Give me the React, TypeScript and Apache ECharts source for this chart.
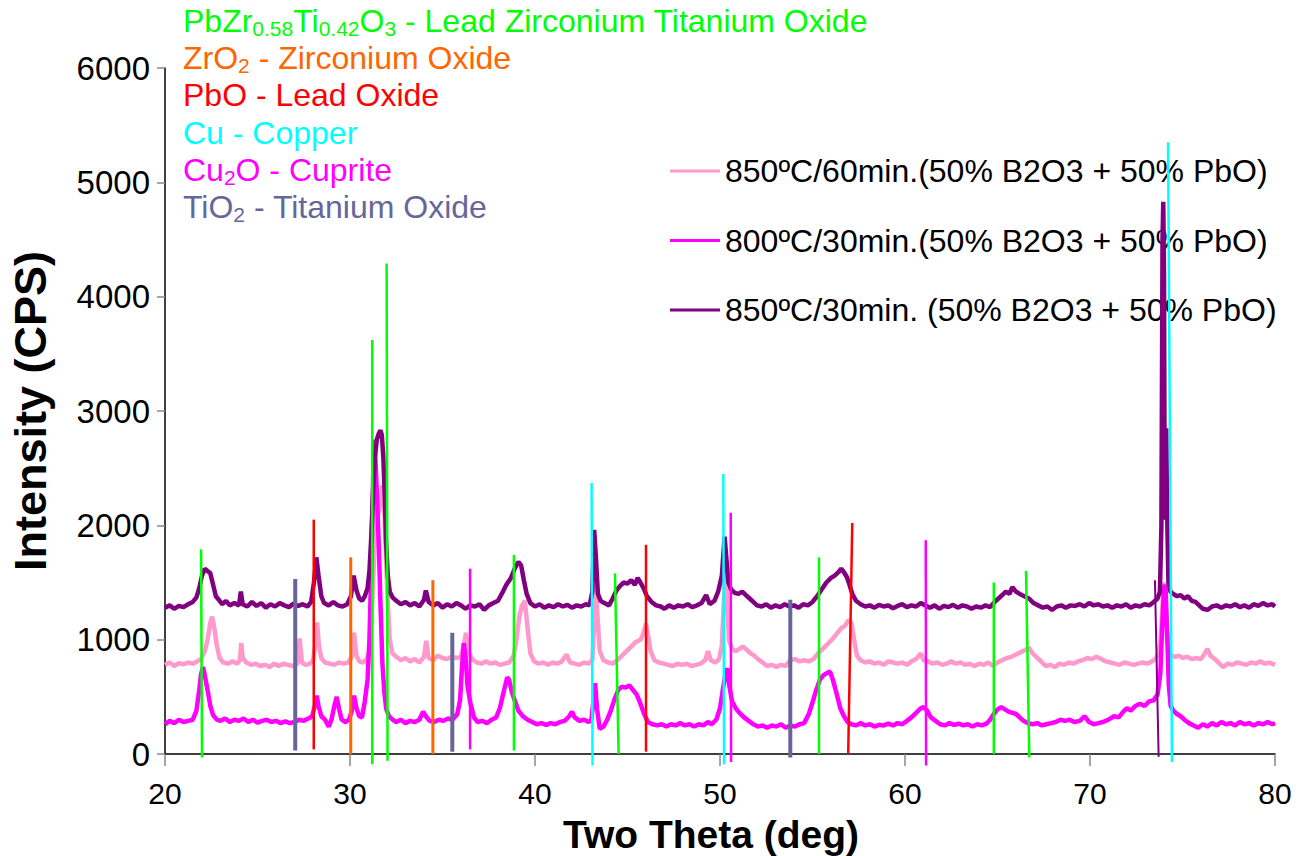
import { useEffect, useRef } from "react";
import * as echarts from "echarts";

// ---- diffraction patterns: [2θ (deg), intensity (CPS)] ----
const pattern850_60: [number, number][] = [
  [20.0, 780], [20.25, 800], [20.5, 770], [20.75, 795], [21.0, 785], [21.25, 800], [21.5, 790], [21.75, 810],
  [21.95, 830], [22.15, 900], [22.3, 1000], [22.45, 1150], [22.55, 1200], [22.65, 1120], [22.8, 950], [22.95, 840],
  [23.15, 800], [23.4, 790], [23.65, 810], [23.9, 790], [24.05, 820], [24.12, 970], [24.2, 840], [24.4, 800],
  [24.65, 780], [24.9, 790], [25.15, 770], [25.4, 780], [25.65, 760], [25.9, 790], [26.15, 770], [26.4, 790],
  [26.65, 780], [26.9, 770], [27.15, 790], [27.28, 1010], [27.4, 800], [27.6, 780], [27.85, 790], [28.0, 820],
  [28.12, 950], [28.22, 1150], [28.32, 950], [28.45, 840], [28.65, 800], [28.9, 790], [29.15, 780], [29.4, 800],
  [29.65, 790], [29.9, 800], [30.1, 850], [30.22, 1060], [30.35, 860], [30.5, 810], [30.7, 800], [30.9, 830],
  [31.05, 900], [31.15, 1100], [31.25, 1500], [31.35, 1900], [31.45, 2150], [31.55, 2100], [31.65, 2200], [31.75, 2350],
  [31.85, 2150], [31.95, 1700], [32.05, 1300], [32.15, 1000], [32.3, 880], [32.5, 850], [32.75, 820], [33.0, 840],
  [33.25, 810], [33.5, 830], [33.75, 800], [34.0, 850], [34.12, 990], [34.25, 840], [34.5, 820], [34.75, 860],
  [35.0, 840], [35.25, 830], [35.5, 850], [35.75, 840], [36.0, 850], [36.15, 950], [36.27, 1060], [36.4, 900],
  [36.6, 830], [36.85, 800], [37.1, 790], [37.35, 810], [37.6, 790], [37.85, 800], [38.1, 780], [38.35, 790],
  [38.6, 800], [38.85, 860], [39.0, 1000], [39.15, 1200], [39.3, 1300], [39.45, 1340], [39.6, 1100], [39.75, 880],
  [39.95, 810], [40.2, 790], [40.45, 800], [40.7, 780], [40.95, 800], [41.2, 790], [41.45, 810], [41.7, 870],
  [41.9, 800], [42.15, 790], [42.4, 780], [42.65, 800], [42.9, 790], [43.1, 820], [43.22, 1200], [43.3, 1480],
  [43.38, 1200], [43.5, 900], [43.7, 820], [43.95, 800], [44.2, 790], [44.45, 820], [44.7, 860], [44.95, 900],
  [45.2, 940], [45.45, 980], [45.7, 1000], [45.85, 1050], [46.0, 1140], [46.1, 1050], [46.25, 900], [46.45, 820],
  [46.7, 800], [46.95, 790], [47.2, 780], [47.45, 770], [47.7, 790], [47.95, 780], [48.2, 790], [48.45, 770],
  [48.7, 780], [48.95, 790], [49.2, 820], [49.35, 900], [49.5, 820], [49.75, 800], [49.95, 830], [50.1, 950],
  [50.2, 1300], [50.3, 1650], [50.38, 1400], [50.48, 1000], [50.65, 920], [50.85, 900], [51.05, 920], [51.25, 940],
  [51.45, 910], [51.65, 880], [51.85, 860], [52.05, 830], [52.3, 800], [52.55, 770], [52.8, 780], [53.05, 760],
  [53.3, 780], [53.55, 770], [53.8, 820], [54.05, 830], [54.3, 810], [54.55, 820], [54.8, 810], [55.05, 830],
  [55.3, 880], [55.55, 920], [55.8, 960], [56.05, 1000], [56.3, 1050], [56.55, 1100], [56.75, 1120], [56.95, 1170],
  [57.1, 1150], [57.25, 1000], [57.4, 860], [57.6, 820], [57.85, 800], [58.1, 810], [58.35, 790], [58.6, 800],
  [58.85, 780], [59.1, 810], [59.35, 800], [59.6, 790], [59.85, 800], [60.1, 780], [60.35, 810], [60.6, 830],
  [60.85, 880], [61.0, 820], [61.25, 810], [61.5, 790], [61.75, 800], [62.0, 780], [62.25, 790], [62.5, 810],
  [62.75, 790], [63.0, 800], [63.25, 780], [63.5, 790], [63.75, 770], [64.0, 790], [64.25, 780], [64.5, 800],
  [64.75, 770], [65.0, 800], [65.25, 820], [65.5, 840], [65.75, 850], [66.0, 870], [66.25, 890], [66.5, 910],
  [66.7, 930], [66.9, 880], [67.1, 850], [67.35, 810], [67.6, 770], [67.85, 780], [68.1, 760], [68.35, 790],
  [68.6, 780], [68.85, 800], [69.1, 790], [69.35, 810], [69.6, 820], [69.85, 840], [70.1, 830], [70.35, 850],
  [70.6, 830], [70.85, 810], [71.1, 800], [71.35, 790], [71.6, 780], [71.85, 800], [72.1, 790], [72.35, 780],
  [72.6, 790], [72.85, 800], [73.1, 790], [73.35, 810], [73.55, 830], [73.7, 880], [73.82, 1000], [73.92, 1300],
  [74.0, 1500], [74.08, 1350], [74.16, 1100], [74.26, 900], [74.4, 860], [74.6, 850], [74.8, 860], [75.0, 840],
  [75.25, 850], [75.5, 830], [75.75, 840], [76.0, 830], [76.2, 880], [76.35, 920], [76.5, 860], [76.75, 830],
  [77.0, 790], [77.2, 760], [77.45, 790], [77.7, 780], [77.95, 800], [78.2, 790], [78.45, 780], [78.7, 800],
  [78.95, 790], [79.2, 810], [79.45, 790], [79.7, 800], [80.0, 780],
];

const pattern800_30: [number, number][] = [
  [20.0, 260], [20.25, 290], [20.5, 270], [20.75, 300], [21.0, 280], [21.25, 290], [21.5, 300], [21.7, 380],
  [21.85, 560], [21.95, 700], [22.05, 760], [22.15, 690], [22.3, 560], [22.45, 420], [22.6, 340], [22.8, 300],
  [23.0, 290], [23.25, 310], [23.5, 280], [23.75, 300], [24.0, 290], [24.25, 310], [24.5, 280], [24.75, 300],
  [25.0, 275], [25.25, 290], [25.5, 300], [25.75, 280], [26.0, 290], [26.25, 270], [26.5, 285], [26.75, 270],
  [27.0, 280], [27.25, 300], [27.5, 290], [27.75, 310], [27.95, 330], [28.1, 420], [28.2, 510], [28.3, 420],
  [28.45, 330], [28.65, 300], [28.85, 240], [29.0, 300], [29.15, 420], [29.28, 500], [29.4, 400], [29.55, 300],
  [29.75, 280], [29.95, 300], [30.1, 380], [30.22, 510], [30.35, 400], [30.5, 330], [30.65, 320], [30.8, 460],
  [30.95, 650], [31.05, 1000], [31.15, 1600], [31.22, 2200], [31.3, 2750], [31.38, 2550], [31.46, 2250], [31.55, 1850],
  [31.65, 1300], [31.75, 800], [31.85, 550], [31.95, 400], [32.1, 330], [32.3, 300], [32.5, 280], [32.75, 300],
  [33.0, 270], [33.25, 290], [33.5, 280], [33.75, 300], [33.95, 370], [34.1, 330], [34.3, 290], [34.55, 280],
  [34.8, 300], [35.05, 290], [35.3, 310], [35.55, 300], [35.8, 350], [35.95, 470], [36.05, 750], [36.15, 970],
  [36.25, 850], [36.35, 600], [36.5, 450], [36.7, 320], [36.9, 280], [37.15, 290], [37.4, 270], [37.65, 300],
  [37.9, 320], [38.1, 400], [38.3, 540], [38.5, 670], [38.6, 650], [38.75, 540], [38.9, 470], [39.1, 380],
  [39.35, 330], [39.6, 300], [39.85, 280], [40.1, 260], [40.35, 270], [40.6, 255], [40.85, 270], [41.1, 260],
  [41.35, 280], [41.6, 290], [41.85, 330], [42.0, 370], [42.15, 320], [42.4, 290], [42.65, 300], [42.9, 280],
  [43.05, 300], [43.15, 450], [43.25, 620], [43.35, 400], [43.5, 220], [43.7, 240], [43.9, 300], [44.1, 380],
  [44.3, 480], [44.5, 560], [44.7, 590], [44.9, 580], [45.1, 600], [45.3, 560], [45.5, 520], [45.7, 440],
  [45.9, 350], [46.1, 280], [46.35, 260], [46.6, 250], [46.85, 260], [47.1, 240], [47.35, 260], [47.6, 250],
  [47.85, 270], [48.1, 250], [48.35, 260], [48.6, 240], [48.85, 260], [49.1, 250], [49.35, 280], [49.55, 260],
  [49.8, 300], [50.0, 400], [50.15, 560], [50.3, 700], [50.4, 750], [50.5, 600], [50.65, 460], [50.85, 400],
  [51.05, 360], [51.3, 320], [51.55, 290], [51.8, 260], [52.05, 240], [52.3, 250], [52.55, 230], [52.8, 250],
  [53.05, 240], [53.3, 260], [53.55, 230], [53.8, 250], [54.05, 240], [54.3, 260], [54.55, 270], [54.8, 350],
  [55.0, 450], [55.2, 560], [55.4, 650], [55.6, 690], [55.8, 710], [55.95, 720], [56.1, 650], [56.3, 530],
  [56.5, 400], [56.7, 330], [56.9, 280], [57.1, 260], [57.35, 250], [57.6, 270], [57.85, 250], [58.1, 260],
  [58.35, 240], [58.6, 255], [58.85, 250], [59.1, 265], [59.35, 250], [59.6, 270], [59.85, 260], [60.1, 290],
  [60.35, 320], [60.6, 360], [60.85, 400], [61.0, 410], [61.2, 380], [61.4, 320], [61.65, 290], [61.9, 260],
  [62.15, 250], [62.4, 270], [62.65, 255], [62.9, 265], [63.15, 250], [63.4, 260], [63.65, 240], [63.9, 260],
  [64.15, 250], [64.4, 265], [64.6, 300], [64.8, 350], [65.0, 390], [65.2, 410], [65.4, 390], [65.6, 370],
  [65.8, 360], [66.0, 350], [66.2, 320], [66.4, 290], [66.65, 270], [66.9, 260], [67.15, 270], [67.4, 250],
  [67.65, 260], [67.9, 270], [68.15, 280], [68.4, 300], [68.65, 290], [68.9, 300], [69.15, 280], [69.45, 290],
  [69.7, 330], [69.95, 280], [70.2, 260], [70.45, 270], [70.7, 280], [71.0, 300], [71.3, 330], [71.55, 320],
  [71.8, 370], [72.0, 400], [72.2, 380], [72.45, 420], [72.7, 440], [72.95, 420], [73.2, 460], [73.45, 470],
  [73.65, 520], [73.8, 700], [73.9, 1100], [74.0, 1450], [74.08, 1480], [74.16, 1100], [74.26, 600], [74.36, 420],
  [74.5, 380], [74.7, 350], [74.9, 330], [75.1, 300], [75.35, 270], [75.6, 250], [75.85, 230], [76.1, 260],
  [76.35, 240], [76.6, 270], [76.85, 250], [77.1, 280], [77.35, 260], [77.6, 270], [77.85, 250], [78.1, 280],
  [78.35, 260], [78.6, 270], [78.85, 250], [79.1, 270], [79.35, 260], [79.6, 280], [79.85, 260], [80.0, 270],
];

const pattern850_30: [number, number][] = [
  [20.0, 1280], [20.25, 1300], [20.5, 1270], [20.75, 1295], [21.0, 1285], [21.25, 1310], [21.5, 1330], [21.7, 1370],
  [21.85, 1450], [22.0, 1560], [22.15, 1620], [22.3, 1600], [22.45, 1580], [22.6, 1480], [22.75, 1380], [22.9, 1350],
  [23.1, 1310], [23.3, 1340], [23.5, 1300], [23.75, 1320], [24.0, 1300], [24.1, 1420], [24.2, 1310], [24.45, 1290],
  [24.7, 1330], [24.95, 1295], [25.2, 1320], [25.45, 1280], [25.7, 1310], [25.95, 1290], [26.2, 1320], [26.45, 1300],
  [26.7, 1285], [26.95, 1315], [27.2, 1295], [27.45, 1310], [27.7, 1290], [27.9, 1330], [28.05, 1500], [28.18, 1720],
  [28.3, 1560], [28.45, 1380], [28.6, 1320], [28.85, 1300], [29.1, 1330], [29.35, 1300], [29.6, 1290], [29.85, 1310],
  [30.05, 1380], [30.2, 1560], [30.35, 1430], [30.5, 1360], [30.65, 1340], [30.8, 1380], [30.95, 1450], [31.05, 1600],
  [31.15, 1900], [31.25, 2300], [31.35, 2600], [31.45, 2750], [31.55, 2800], [31.65, 2830], [31.72, 2790], [31.8, 2600],
  [31.88, 2250], [31.95, 1850], [32.05, 1550], [32.15, 1420], [32.3, 1370], [32.5, 1340], [32.75, 1310], [33.0, 1330],
  [33.25, 1300], [33.5, 1320], [33.75, 1290], [34.0, 1350], [34.1, 1430], [34.25, 1330], [34.5, 1300], [34.75, 1320],
  [35.0, 1280], [35.25, 1310], [35.5, 1290], [35.75, 1320], [36.0, 1300], [36.25, 1270], [36.5, 1300], [36.75, 1290],
  [37.0, 1310], [37.25, 1260], [37.5, 1300], [37.75, 1320], [38.0, 1340], [38.2, 1400], [38.45, 1480], [38.7, 1540],
  [38.9, 1620], [39.1, 1680], [39.25, 1650], [39.4, 1520], [39.55, 1400], [39.75, 1320], [40.0, 1290], [40.25, 1310],
  [40.5, 1280], [40.75, 1300], [41.0, 1285], [41.25, 1310], [41.5, 1290], [41.75, 1305], [42.0, 1280], [42.25, 1300],
  [42.5, 1290], [42.75, 1310], [42.95, 1300], [43.1, 1420], [43.2, 1960], [43.3, 1700], [43.4, 1400], [43.55, 1340],
  [43.75, 1320], [44.0, 1300], [44.2, 1360], [44.4, 1430], [44.6, 1470], [44.8, 1500], [45.0, 1490], [45.2, 1520],
  [45.4, 1480], [45.55, 1540], [45.7, 1500], [45.9, 1440], [46.05, 1380], [46.3, 1330], [46.55, 1300], [46.8, 1290],
  [47.0, 1270], [47.25, 1300], [47.5, 1280], [47.75, 1300], [48.0, 1290], [48.25, 1310], [48.5, 1285], [48.75, 1300],
  [49.0, 1320], [49.25, 1390], [49.45, 1310], [49.7, 1340], [49.9, 1420], [50.1, 1560], [50.25, 1900], [50.35, 1700],
  [50.45, 1500], [50.6, 1440], [50.8, 1410], [51.0, 1400], [51.2, 1420], [51.4, 1390], [51.6, 1360], [51.8, 1330],
  [52.0, 1300], [52.25, 1290], [52.5, 1310], [52.75, 1280], [53.0, 1300], [53.25, 1285], [53.5, 1310], [53.75, 1290],
  [54.0, 1300], [54.25, 1280], [54.5, 1310], [54.75, 1300], [55.0, 1330], [55.25, 1380], [55.5, 1440], [55.75, 1500],
  [56.0, 1540], [56.2, 1560], [56.4, 1590], [56.55, 1620], [56.7, 1590], [56.85, 1550], [57.0, 1480], [57.15, 1400],
  [57.35, 1340], [57.6, 1310], [57.85, 1290], [58.1, 1300], [58.35, 1280], [58.6, 1305], [58.85, 1290], [59.1, 1300],
  [59.35, 1275], [59.6, 1295], [59.85, 1310], [60.1, 1285], [60.35, 1300], [60.6, 1290], [60.85, 1320], [61.1, 1300],
  [61.35, 1280], [61.6, 1300], [61.85, 1270], [62.1, 1295], [62.35, 1285], [62.6, 1305], [62.85, 1280], [63.1, 1300],
  [63.35, 1290], [63.6, 1270], [63.85, 1290], [64.1, 1280], [64.35, 1300], [64.6, 1285], [64.85, 1330], [65.05, 1360],
  [65.25, 1390], [65.45, 1420], [65.65, 1400], [65.8, 1460], [66.0, 1420], [66.2, 1400], [66.45, 1380], [66.7, 1360],
  [66.95, 1320], [67.2, 1300], [67.45, 1280], [67.7, 1290], [67.95, 1260], [68.2, 1290], [68.45, 1300], [68.7, 1280],
  [68.95, 1300], [69.2, 1295], [69.45, 1310], [69.7, 1290], [69.95, 1320], [70.2, 1300], [70.45, 1310], [70.7, 1290],
  [70.95, 1300], [71.2, 1280], [71.45, 1300], [71.7, 1290], [71.95, 1310], [72.2, 1280], [72.45, 1300], [72.7, 1290],
  [72.95, 1310], [73.2, 1300], [73.45, 1330], [73.65, 1360], [73.78, 1420], [73.86, 2000], [73.92, 4500], [73.96, 4830],
  [74.0, 4200], [74.04, 2050], [74.08, 2500], [74.12, 2850], [74.17, 2100], [74.24, 1500], [74.35, 1420], [74.5, 1400],
  [74.7, 1380], [74.9, 1390], [75.1, 1360], [75.3, 1380], [75.5, 1340], [75.7, 1330], [75.9, 1300], [76.1, 1270],
  [76.35, 1260], [76.6, 1290], [76.85, 1300], [77.1, 1280], [77.35, 1300], [77.6, 1290], [77.85, 1310], [78.1, 1285],
  [78.35, 1300], [78.6, 1280], [78.85, 1310], [79.1, 1295], [79.35, 1320], [79.6, 1300], [79.85, 1310], [80.0, 1290],
];

// ---- reference peaks per phase: [2θ at top, 2θ at foot, top CPS, foot CPS] ----
const pztPeaks: [number, number, number, number][] = [
  [21.95, 22.0, 1790, -30], [31.2, 31.2, 3620, -90], [31.98, 32.03, 4290, -60], [38.86, 38.86, 1740, 30],
  [44.32, 44.52, 1580, 0], [55.35, 55.35, 1720, 0], [64.8, 64.8, 1500, 0], [66.54, 66.72, 1600, -30],
];
const zro2Peaks: [number, number, number, number][] = [
  [30.04, 30.04, 1720, 0], [34.48, 34.48, 1520, 0],
];
const pboPeaks: [number, number, number, number][] = [
  [28.04, 28.04, 2050, 40], [46.0, 46.0, 1830, 20], [57.15, 56.93, 2020, 0],
];
const cuPeaks: [number, number, number, number][] = [
  [43.06, 43.11, 2370, -100], [50.18, 50.22, 2450, -90], [74.22, 74.43, 5350, -70],
];
const cu2oPeaks: [number, number, number, number][] = [
  [36.49, 36.49, 1620, 40], [50.58, 50.6, 2110, -70], [61.12, 61.14, 1870, -100],
];
const tio2Peaks: [number, number, number, number][] = [
  [27.04, 27.04, 1530, 30], [35.53, 35.53, 1060, 20], [53.8, 53.8, 1350, -30],
];
const extraPeaks: [number, number, number, number][] = [
  [73.51, 73.71, 1520, -25],
];

const sampleNames = [
  "850ºC/60min.(50% B2O3 + 50% PbO)",
  "800ºC/30min.(50% B2O3 + 50% PbO)",
  "850ºC/30min. (50% B2O3 + 50% PbO)",
];

const xTicks = { min: 20, max: 80, step: 10 };
const yTicks = { min: 0, max: 6000, step: 1000 };

const FONT = "'Liberation Sans', Arial, Helvetica, sans-serif";

const phaseStyles = [
  { key: "pzt", peaks: pztPeaks, color: "#00FF00", width: 2.5 },
  { key: "zro2", peaks: zro2Peaks, color: "#FF6600", width: 3 },
  { key: "pbo", peaks: pboPeaks, color: "#FF0000", width: 2.5 },
  { key: "cu", peaks: cuPeaks, color: "#00FFFF", width: 2.5 },
  { key: "cu2o", peaks: cu2oPeaks, color: "#FF00FF", width: 2.5 },
  { key: "tio2", peaks: tio2Peaks, color: "#666699", width: 4 },
  { key: "extra", peaks: extraPeaks, color: "#800080", width: 2 },
];

// phase key lines in the top-left corner (rich text with subscripts)
const phaseLegend = [
  { color: "#00FF00", text: "{a|PbZr}{s|0.58}{a|Ti}{s|0.42}{a|O}{s|3}{a| - Lead Zirconium Titanium Oxide}" },
  { color: "#FF6600", text: "{a|ZrO}{s|2}{a| - Zirconium Oxide}" },
  { color: "#FF0000", text: "{a|PbO - Lead Oxide}" },
  { color: "#00FFFF", text: "{a|Cu - Copper}" },
  { color: "#FF00FF", text: "{a|Cu}{s|2}{a|O - Cuprite}" },
  { color: "#666699", text: "{a|TiO}{s|2}{a| - Titanium Oxide}" },
];

export default function App() {
  const ref = useRef<HTMLDivElement>(null);

  useEffect(() => {
    if (!ref.current) return;
    const chart = echarts.init(ref.current, null, { renderer: "svg" });

    const sampleColors = ["#FF99CC", "#FF00FF", "#800080"];
    const patterns = [pattern850_60, pattern800_30, pattern850_30];

    const sampleSeries = patterns.map((data, i) => ({
      type: "line",
      name: sampleNames[i],
      data,
      symbol: "none",
      showSymbol: false,
      z: 2 + i,
      lineStyle: { color: sampleColors[i], width: 4.5 },
      itemStyle: { color: sampleColors[i] },
    }));

    const peakSeries = phaseStyles.flatMap((p) =>
      p.peaks.map(([xTop, xFoot, top, foot], i) => ({
        type: "line",
        name: `${p.key}-${i}`,
        data: [
          [xFoot, foot],
          [xTop, top],
        ],
        symbol: "none",
        showSymbol: false,
        clip: false,
        silent: true,
        z: 10,
        lineStyle: { color: p.color, width: p.width },
      }))
    );

    const graphics: any[] = phaseLegend.map((l, i) => ({
      type: "text",
      left: 183,
      top: 5 + i * 37.2,
      silent: true,
      style: {
        text: l.text,
        fill: l.color,
        rich: {
          a: { fontSize: 32, fontFamily: FONT, fill: l.color, lineHeight: 36, verticalAlign: "middle" },
          s: { fontSize: 21, fontFamily: FONT, fill: l.color, lineHeight: 21, verticalAlign: "bottom" },
        },
      },
    }));

    graphics.push({
      type: "text",
      x: 711,
      y: 834,
      silent: true,
      style: {
        text: "Two Theta (deg)",
        fontSize: 39,
        lineHeight: 36,
        fontWeight: "bold",
        fontFamily: FONT,
        fill: "#000",
        align: "center",
        verticalAlign: "middle",
        textAlign: "center",
        textVerticalAlign: "middle",
      },
    });
    graphics.push({
      type: "text",
      x: 30,
      y: 411,
      rotation: Math.PI / 2,
      silent: true,
      style: {
        text: "Intensity (CPS)",
        fontSize: 45,
        fontWeight: "bold",
        fontFamily: FONT,
        fill: "#000",
        align: "center",
        verticalAlign: "middle",
        textAlign: "center",
        textVerticalAlign: "middle",
      },
    });

    chart.setOption({
      animation: false,
      backgroundColor: "#ffffff",
      grid: { left: 165, right: 30, top: 68, bottom: 102, containLabel: false },
      legend: {
        data: sampleNames,
        orient: "vertical",
        left: 665,
        top: 148,
        icon: "rect",
        itemWidth: 50,
        itemHeight: 3,
        itemGap: 33.5,
        selectedMode: false,
        textStyle: { fontSize: 32, fontFamily: FONT, color: "#000", lineHeight: 36 },
      },
      xAxis: {
        type: "value",
        min: xTicks.min,
        max: xTicks.max,
        interval: xTicks.step,
        axisLine: { show: true, lineStyle: { color: "#000", width: 1.5 } },
        axisTick: { show: true, inside: false, length: 12, lineStyle: { color: "#888", width: 1.5 } },
        splitLine: { show: false },
        axisLabel: {
          margin: 26,
          fontSize: 30,
          lineHeight: 26,
          fontFamily: FONT,
          color: "#000",
          formatter: (v: number) => String(v),
        },
      },
      yAxis: {
        type: "value",
        min: yTicks.min,
        max: yTicks.max,
        interval: yTicks.step,
        axisLine: { show: true, lineStyle: { color: "#000", width: 1.5 } },
        axisTick: { show: true, inside: false, length: 8, lineStyle: { color: "#888", width: 1.5 } },
        splitLine: { show: false },
        axisLabel: {
          margin: 15,
          fontSize: 33,
          fontFamily: FONT,
          color: "#000",
          formatter: (v: number) => String(v),
        },
      },
      graphic: graphics,
      series: [...sampleSeries, ...peakSeries],
    });

    return () => chart.dispose();
  }, []);

  return (
    <div
      ref={ref}
      style={{ position: "fixed", left: 0, top: 0, width: 1305, height: 856, background: "#fff" }}
    />
  );
}
